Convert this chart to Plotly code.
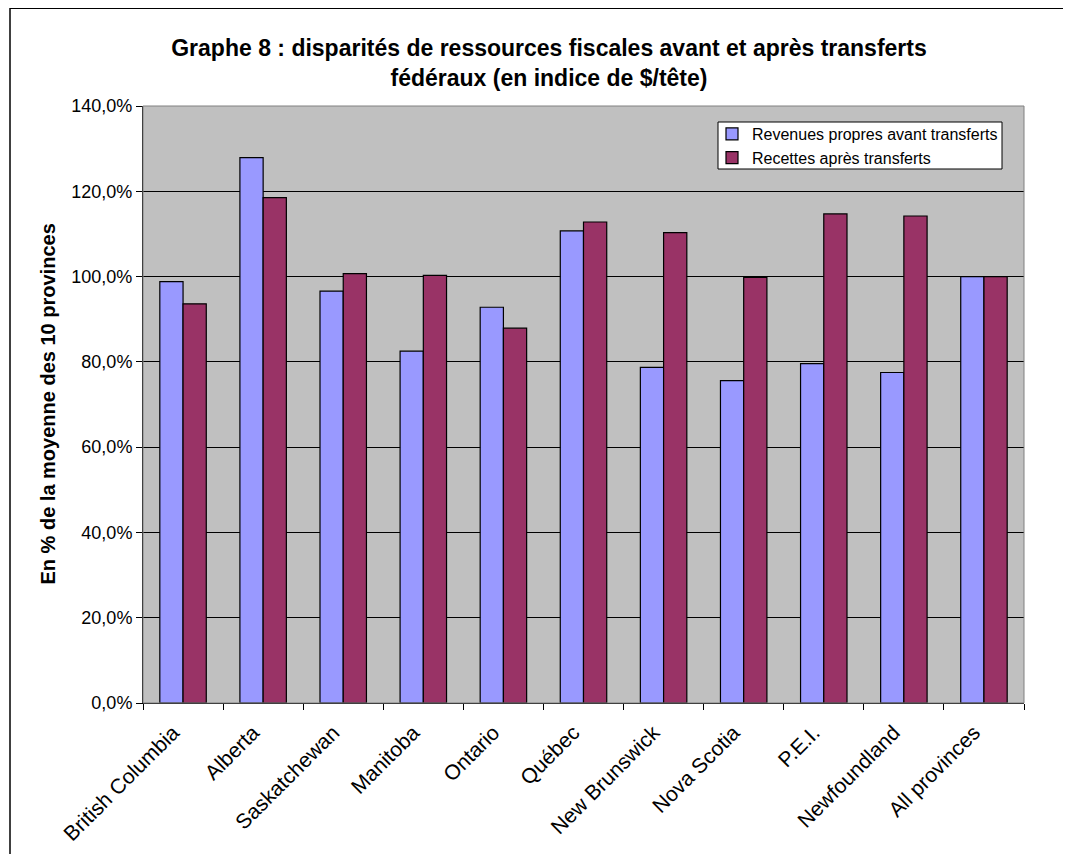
import plotly.graph_objects as go

provinces = ["British Columbia", "Alberta", "Saskatchewan", "Manitoba", "Ontario",
             "Québec", "New Brunswick", "Nova Scotia", "P.E.I.", "Newfoundland",
             "All provinces"]
avant = [0.988, 1.279, 0.966, 0.825, 0.928, 1.107, 0.787, 0.756, 0.796, 0.775, 1.000]
apres = [0.936, 1.185, 1.007, 1.003, 0.879, 1.128, 1.103, 0.998, 1.147, 1.142, 1.000]
y_ticks = [0, 0.2, 0.4, 0.6, 0.8, 1.0, 1.2, 1.4]

font = "Liberation Sans, Arial, sans-serif"

# page body adds an 8px margin, so the figure is drawn 8px smaller
W, H = 1063, 846
L, R, T, B = 135, 47, 98, 151
pw, ph = W - L - R, H - T - B


def px_x(v):
    return (v - L) / pw


def px_y(v):
    return (H - B - v) / ph


fig = go.Figure()
fig.add_trace(go.Bar(
    x=provinces, y=avant, name="Revenues propres avant transferts",
    marker=dict(color="#9999FF", line=dict(color="black", width=1.2)),
))
fig.add_trace(go.Bar(
    x=provinces, y=apres, name="Recettes après transferts",
    marker=dict(color="#993366", line=dict(color="black", width=1.2)),
))

fig.update_layout(
    width=W, height=H,
    separators=", ",
    paper_bgcolor="white",
    plot_bgcolor="#C0C0C0",
    margin=dict(l=L, r=R, t=T, b=B),
    barmode="group", bargap=0.42, bargroupgap=0,
    font=dict(family=font, size=18, color="black"),
    title=dict(
        text="<b>Graphe 8 : disparités de ressources fiscales avant et après transferts<br>fédéraux (en indice de $/tête)</b>",
        x=541 / W, xanchor="center", xref="container",
        y=1 - 48 / H, yanchor="middle", yref="container",
        font=dict(family=font, size=23),
    ),
    legend=dict(
        x=px_x(704), y=px_y(109), xanchor="left", yanchor="top",
        bgcolor="rgba(0,0,0,0)", borderwidth=0,
        font=dict(size=16), tracegroupgap=0, itemwidth=30,
    ),
    xaxis=dict(
        tickangle=-45, tickson="boundaries", ticks="outside", ticklen=6,
        tickcolor="black", showline=True, linecolor="black", linewidth=1,
        showgrid=False, tickfont=dict(size=21), automargin=False,
        ticklabelstandoff=8, ticklabelshift=-10,
    ),
    yaxis=dict(
        range=[0, 1.4], tickvals=y_ticks, tickformat=".1%",
        ticks="outside", ticklen=6, tickcolor="black",
        showline=True, linecolor="black", linewidth=1,
        showgrid=True, gridcolor="black", gridwidth=1,
        zeroline=False, tickfont=dict(size=18), automargin=False,
    ),
    annotations=[
        dict(text="<b>En % de la moyenne des 10 provinces</b>", textangle=-90,
             xref="paper", yref="paper", x=px_x(39), y=0.5,
             xanchor="center", yanchor="middle", showarrow=False,
             font=dict(size=20)),
    ],
    shapes=[
        dict(type="rect", xref="paper", yref="paper",
             x0=0, x1=1, y0=0, y1=1, line=dict(color="#808080", width=1)),
        # legend box
        dict(type="rect", xref="paper", yref="paper",
             x0=px_x(710), x1=px_x(994), y0=px_y(114), y1=px_y(161),
             fillcolor="white", line=dict(color="black", width=1), layer="above"),
        # outer chart frame
        dict(type="line", xref="paper", yref="paper",
             x0=px_x(2), x1=px_x(2), y0=-1, y1=px_y(0),
             line=dict(color="black", width=1.5)),
        dict(type="line", xref="paper", yref="paper",
             x0=px_x(2), x1=px_x(W), y0=px_y(0), y1=px_y(0),
             line=dict(color="black", width=2)),
    ],
)

fig.write_html("out.html")
